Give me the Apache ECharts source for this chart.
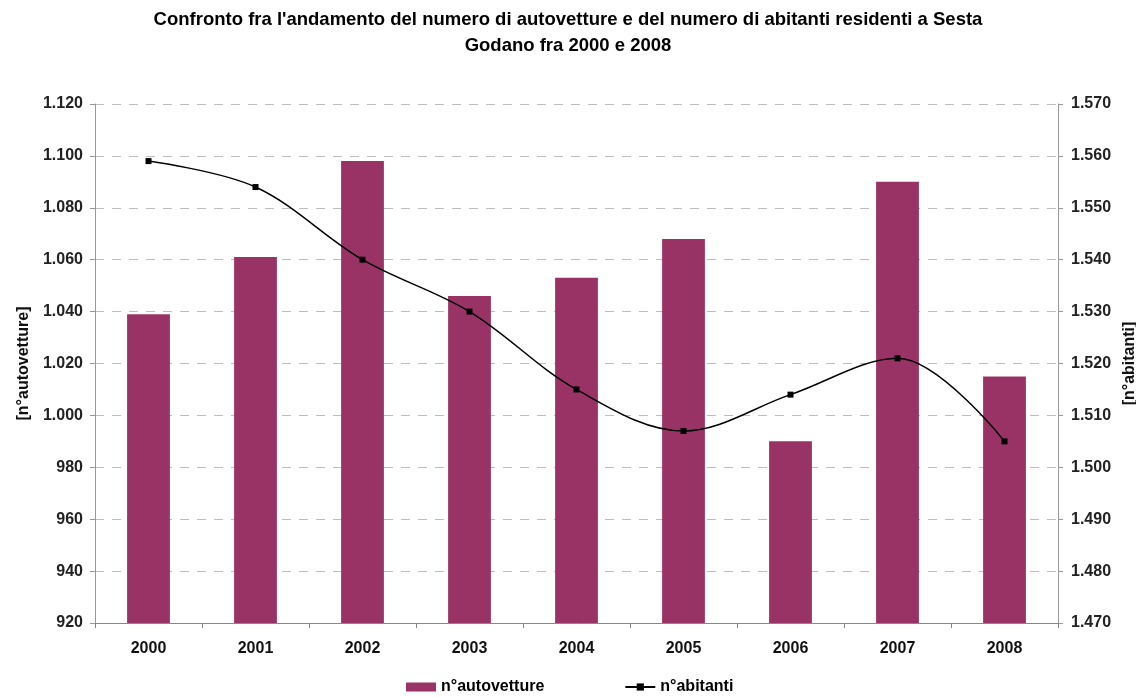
<!DOCTYPE html>
<html>
<head>
<meta charset="utf-8">
<script src="https://cdn.jsdelivr.net/npm/echarts@6/dist/echarts.min.js"></script>
<style>
  html, body { margin: 0; padding: 0; background: #fff; }
  #chart { width: 1136px; height: 697px; }
</style>
</head>
<body>
<div id="chart"></div>
<script>
// Anni di riferimento
const anni = ['2000', '2001', '2002', '2003', '2004', '2005', '2006', '2007', '2008'];
// Numero di autovetture (asse sinistro)
const autovetture = [1039, 1061, 1098, 1046, 1053, 1068, 990, 1090, 1015];
// Numero di abitanti residenti (asse destro)
const abitanti = [1559, 1554, 1540, 1530, 1515, 1507, 1514, 1521, 1505];

const fontFamily = '"Liberation Sans", Arial, sans-serif';

// Separatore delle migliaia con il punto
function fmt(v) {
  return String(v).replace(/\B(?=(\d{3})+(?!\d))/g, '.');
}

const chart = echarts.init(document.getElementById('chart'));
chart.setOption({
  backgroundColor: '#ffffff',
  animation: false,
  title: {
    text: "Confronto fra l'andamento del numero di autovetture e del numero di abitanti residenti a Sesta\nGodano fra 2000 e 2008",
    left: 'center',
    top: 2,
    textStyle: { fontFamily, fontSize: 18.5, fontWeight: 'bold', color: '#000', lineHeight: 26 }
  },
  legend: {
    bottom: 2,
    left: 406,
    padding: 0,
    itemGap: 80,
    itemWidth: 30,
    itemHeight: 9,
    textStyle: { fontFamily, fontSize: 16, fontWeight: 'bold', color: '#000' },
    data: [
      { name: 'n°autovetture', icon: 'rect' },
      { name: 'n°abitanti' }
    ]
  },
  grid: { left: 95, right: 78, top: 104, bottom: 74, outerBoundsMode: 'none', containLabel: false },
  xAxis: {
    type: 'category',
    data: anni,
    boundaryGap: true,
    axisLine: { lineStyle: { color: '#888', width: 1 } },
    axisTick: { show: true, alignWithLabel: false, length: 5, lineStyle: { color: '#888' } },
    axisLabel: { fontFamily, fontSize: 16, fontWeight: 'bold', color: '#111', margin: 18 }
  },
  yAxis: [
    {
      type: 'value',
      min: 920, max: 1120, interval: 20,
      name: '[n°autovetture]',
      nameLocation: 'middle',
      nameGap: 58,
      nameTextStyle: { fontFamily, fontSize: 16, fontWeight: 'bold', color: '#111' },
      axisLine: { show: true, lineStyle: { color: '#999', width: 1 } },
      axisTick: { show: true, length: 5, lineStyle: { color: '#999' } },
      axisLabel: { fontFamily, fontSize: 16, fontWeight: 'bold', color: '#222', margin: 12, formatter: fmt },
      splitLine: { show: true, lineStyle: { color: '#bdbdbd', type: [9, 8], width: 1 } }
    },
    {
      type: 'value',
      min: 1470, max: 1570, interval: 10,
      name: '[n°abitanti]',
      nameLocation: 'middle',
      nameGap: 53,
      nameRotate: 90,
      nameTextStyle: { fontFamily, fontSize: 16, fontWeight: 'bold', color: '#111' },
      axisLine: { show: true, lineStyle: { color: '#999', width: 1 } },
      axisTick: { show: true, length: 5, lineStyle: { color: '#999' } },
      axisLabel: { fontFamily, fontSize: 16, fontWeight: 'bold', color: '#222', margin: 13, formatter: fmt },
      splitLine: { show: false }
    }
  ],
  series: [
    {
      name: 'n°autovetture',
      type: 'bar',
      yAxisIndex: 0,
      data: autovetture,
      barWidth: '40%',
      itemStyle: { color: '#993366' }
    },
    {
      name: 'n°abitanti',
      type: 'line',
      yAxisIndex: 1,
      data: abitanti,
      smooth: 0.35,
      symbol: 'rect',
      symbolSize: 6,
      lineStyle: { color: '#000', width: 1.5 },
      itemStyle: { color: '#000' }
    }
  ]
});
</script>
</body>
</html>
